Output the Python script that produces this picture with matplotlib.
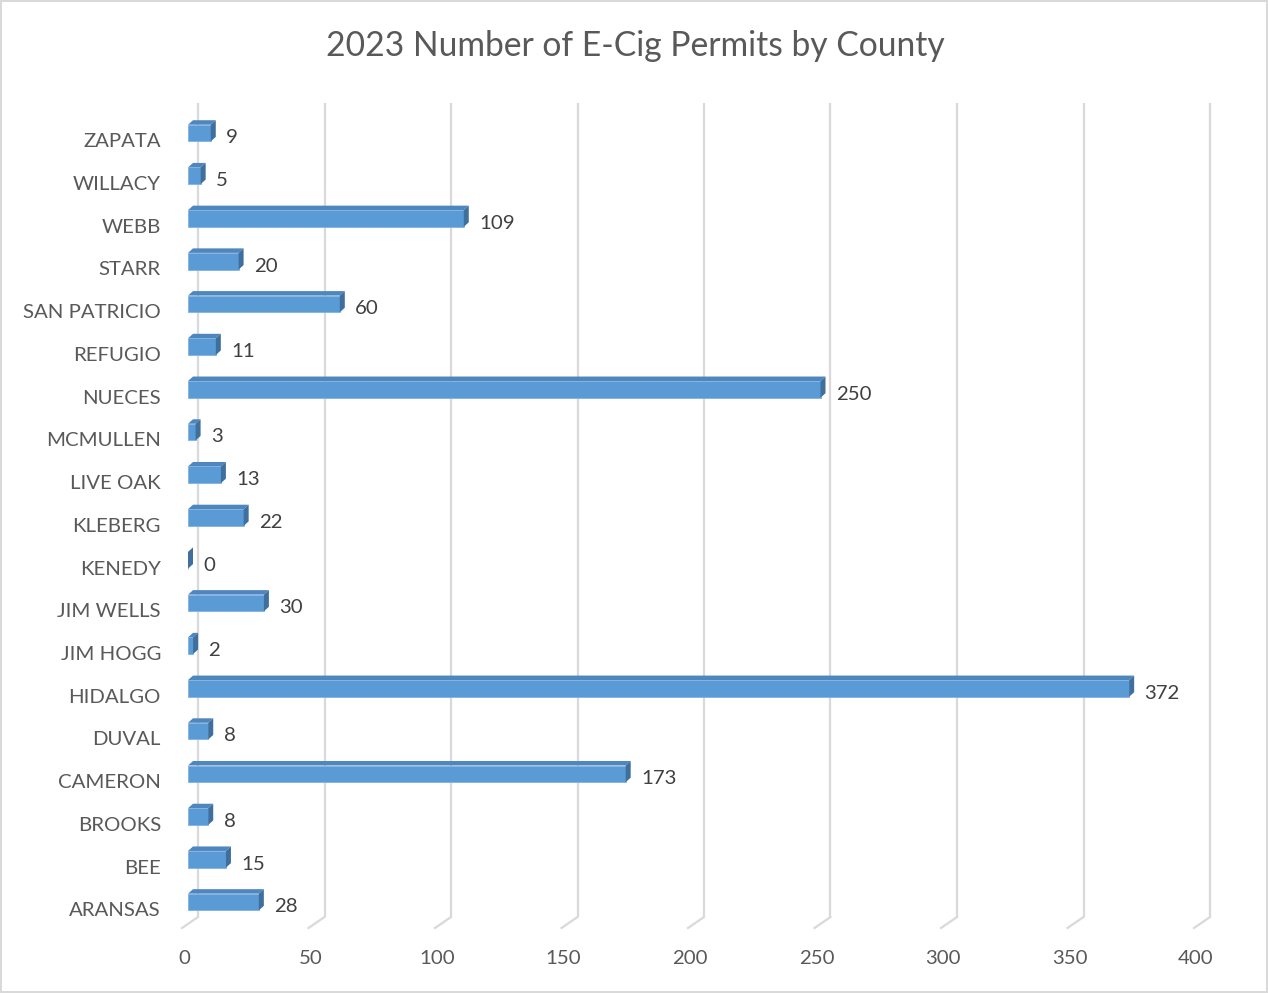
import numpy as np
import matplotlib.pyplot as plt
from matplotlib.patches import Polygon

counties = ['ARANSAS', 'BEE', 'BROOKS', 'CAMERON', 'DUVAL', 'HIDALGO', 'JIM HOGG',
            'JIM WELLS', 'KENEDY', 'KLEBERG', 'LIVE OAK', 'MCMULLEN', 'NUECES',
            'REFUGIO', 'SAN PATRICIO', 'STARR', 'WEBB', 'WILLACY', 'ZAPATA']
permits = [28, 15, 8, 173, 8, 372, 2, 30, 0, 22, 13, 3, 250, 11, 60, 20, 109, 5, 9]
x_ticks = [0, 50, 100, 150, 200, 250, 300, 350, 400]

plt.rcParams['font.family'] = ['Lato', 'DejaVu Sans']

W, H = 1268, 993
fig = plt.figure(figsize=(W / 100, H / 100), dpi=100)
fig.patch.set_edgecolor('#D9D9D9')
fig.patch.set_linewidth(1.5)

# axes in pixel terms: value 0 at px 188, 2.53 px per unit; category i at 902 - 42.72*i
px_u = 2.53
px_c = 42.72
left_px = 172
ax = fig.add_axes([left_px / W, (H - 935) / H, (1240 - left_px) / W, 840 / H])
ax.set_xlim((left_px - 188) / px_u, (1240 - 188) / px_u)
ax.set_ylim((902 - 935) / px_c, (902 - 95) / px_c)

# 3d offsets in data units
bdx, bdy = 5 / px_u, 4.5 / px_c        # bar depth
gdx, gdy = 10 / px_u, 11 / px_c        # back wall offset
fdx = -6 / px_u                        # floor front
y_top = (902 - 103) / px_c
y_back = (902 - 917) / px_c

grid_c = '#D9D9D9'
for v in x_ticks:
    xb = v + gdx
    ax.plot([xb, xb], [y_back, y_top], color=grid_c, lw=1.6, zorder=1,
            solid_capstyle='butt', clip_on=False)
    ax.plot([v + fdx, xb], [y_back - gdy, y_back], color=grid_c, lw=1.6, zorder=1,
            clip_on=False)

front_c = '#5B9BD5'
top_c = '#4F86BE'
side_c = '#3F6F9C'
fs = 14.7
h = 0.39
y = np.arange(len(counties))
ax.barh(y, permits, height=h, color=front_c, edgecolor='#7FB2E0', linewidth=0.6, zorder=3)
for yi, v in zip(y, permits):
    y0, y1 = yi - h / 2, yi + h / 2
    top = Polygon([(0, y1), (v, y1), (v + bdx, y1 + bdy), (bdx, y1 + bdy)],
                  closed=True, facecolor=top_c, edgecolor='none', zorder=2)
    side = Polygon([(v, y0), (v, y1), (v + bdx, y1 + bdy), (v + bdx, y0 + bdy)],
                   closed=True, facecolor=side_c, edgecolor='none', zorder=4)
    ax.add_patch(top)
    ax.add_patch(side)
    ax.annotate(str(v), (v + bdx, yi), xytext=(7.5, -3.5), textcoords='offset points',
                ha='left', va='center', fontsize=fs, color='#404040')

ax.set_yticks(y - 0.17)
ax.set_yticklabels(counties, fontsize=fs, color='#595959')
ax.set_xticks([v - 1.6 for v in x_ticks])
ax.set_xticklabels([str(v) for v in x_ticks], fontsize=fs, color='#595959')
ax.tick_params(axis='both', length=0)
ax.tick_params(axis='y', pad=8)
ax.tick_params(axis='x', pad=11)
for s in ax.spines.values():
    s.set_visible(False)

fig.text(635 / W, 1 - 46 / H, '2023 Number of E-Cig Permits by County',
         ha='center', va='center', fontsize=24.2, color='#595959')

plt.savefig('out.png', dpi=100)
